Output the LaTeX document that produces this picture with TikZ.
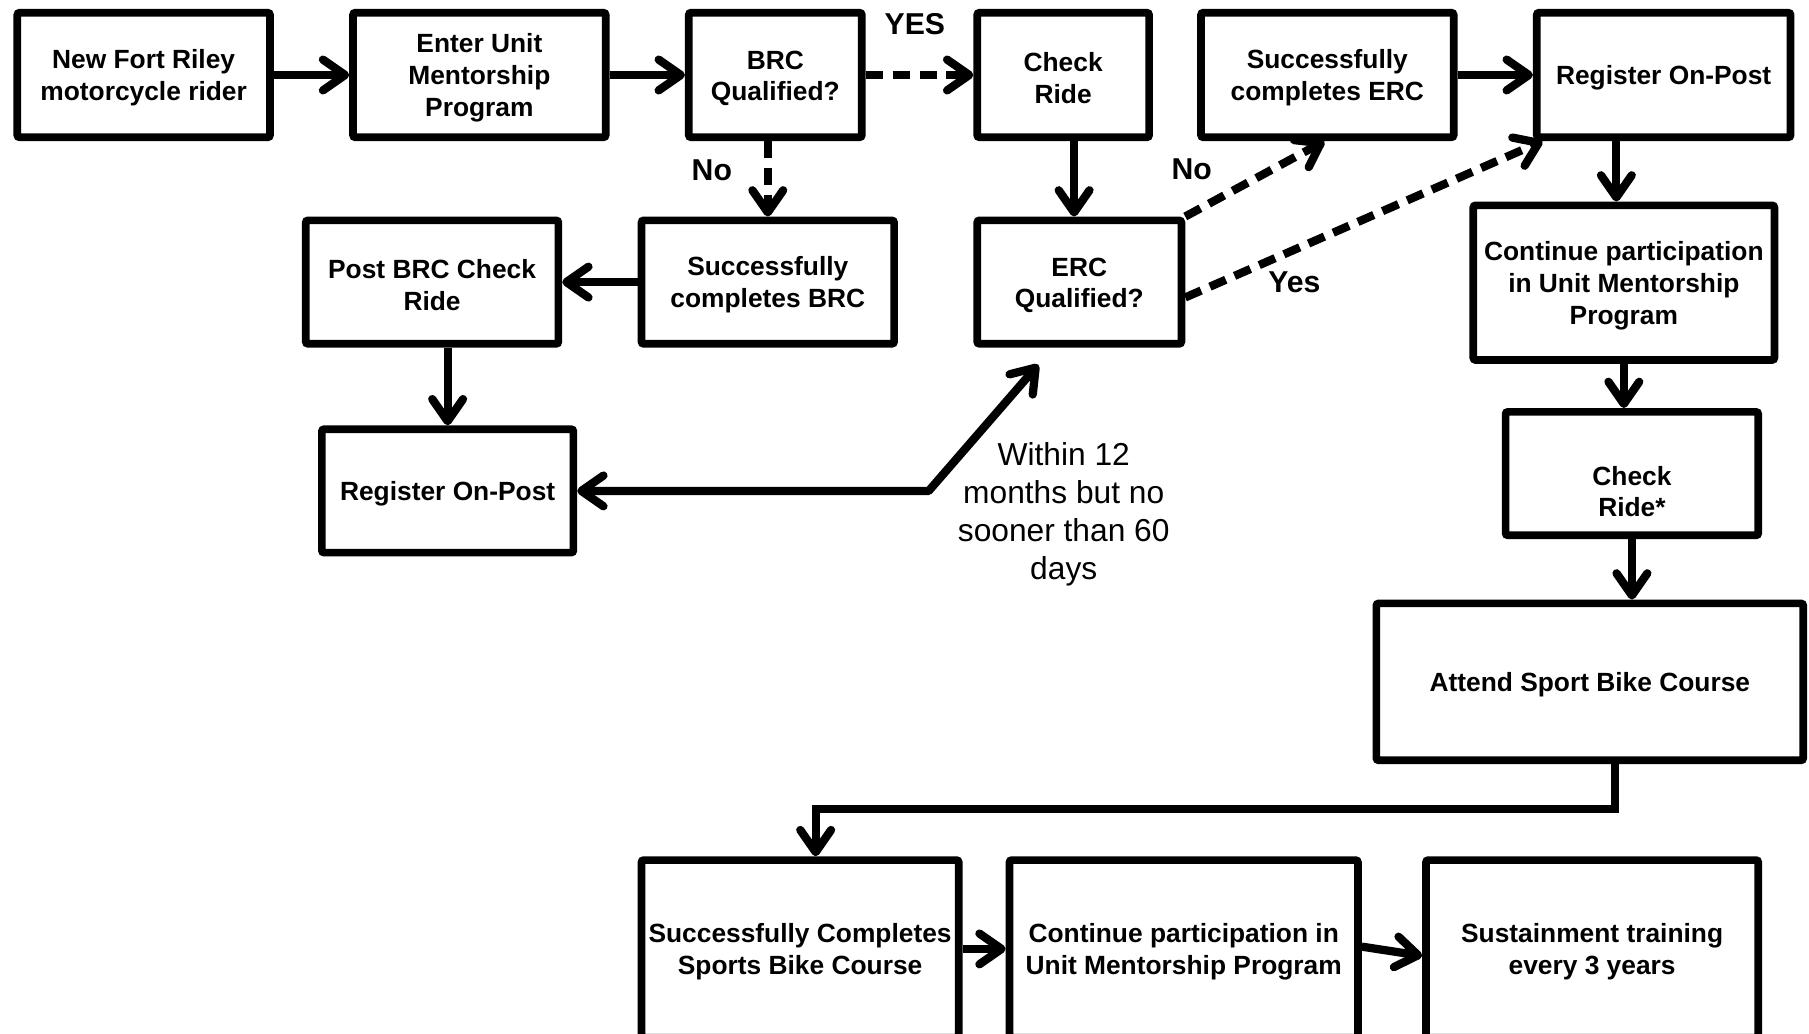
\documentclass[tikz,border=0pt]{standalone}
\usepackage{fontspec}
\setmainfont{Liberation Sans}
\usetikzlibrary{arrows.meta,calc}
\newcommand\fl{\rule{0pt}{13pt}}
\begin{document}
\begin{tikzpicture}[x=0.6pt,y=-0.6pt,
  box/.style={draw=black, line width=4pt, rectangle, rounded corners=1.2pt, align=center, inner sep=1pt, font=\bfseries\fontsize{13.7}{16.5}\selectfont, text=black},
  txt/.style={align=center, inner sep=0pt, font=\bfseries\fontsize{13.7}{16.5}\selectfont},
  tip/.tip={Straight Barb[length=11.5pt,width=16pt,line cap=round,line join=round]},
  arr/.style={line width=4.3pt, -tip, line join=round},
  dsh/.style={arr, dash pattern=on 9pt off 5pt},
  lbl/.style={font=\bfseries\fontsize{15.7}{18}\selectfont, inner sep=0pt},
  note/.style={font=\fontsize{16.5}{19.8}\selectfont, align=center, inner sep=0pt}]
\useasboundingbox (0,0) rectangle (1568,896);
\clip (0,0) rectangle (1568,896);
\fill[white] (0,0) rectangle (1568,896);

% top row
\node[box, minimum width=131.4pt, minimum height=64.8pt] (n1) at (124.5,65) {\fl New Fort Riley\\motorcycle rider};
\node[box, minimum width=131.4pt, minimum height=64.8pt] (n2) at (415.5,65) {\fl Enter Unit\\Mentorship\\Program};
\node[box, minimum width=90pt, minimum height=64.8pt] (n3) at (672,65) {\fl BRC\\Qualified?};
\node[box, minimum width=89.4pt, minimum height=64.8pt] (n4) at (921.5,65) {\fl Check\\Ride};
\node[box, minimum width=131.4pt, minimum height=64.8pt] (n5) at (1150.5,65) {\fl Successfully\\completes ERC};
\node[box, minimum width=132pt, minimum height=64.8pt] (n6) at (1442,65) {\fl Register On-Post};

% second row
\node[box, minimum width=131.4pt, minimum height=64.2pt] (n7) at (374.5,244.5) {\fl Post BRC Check\\Ride};
\node[box, minimum width=131.4pt, minimum height=64.2pt] (n8) at (665.5,244.5) {\fl Successfully\\completes BRC};
\node[box, minimum width=106.2pt, minimum height=64.2pt] (n9) at (935.5,244.5) {\fl ERC\\Qualified?};
\node[box, minimum width=156.6pt, minimum height=80.4pt] (n10) at (1407.5,245) {\fl Continue participation\\in Unit Mentorship\\Program};

% third row
\node[box, minimum width=130.8pt, minimum height=64.2pt] (n11) at (388,425.5) {\fl Register On-Post};
\node[box, minimum width=131.4pt, minimum height=64.2pt] (n12) at (1414.5,410.5) {};
\node[txt] (t12) at (1414.5,426) {Check\\Ride*};
\node[box, minimum width=222pt, minimum height=81.6pt] (n13) at (1378,591) {\fl Attend Sport Bike Course};

% bottom row
\node[box, minimum width=165pt, minimum height=92.4pt] (n14) at (693.5,822.5) {\fl Successfully Completes\\Sports Bike Course};
\node[box, minimum width=181.2pt, minimum height=92.4pt] (n15) at (1026,822.5) {\fl Continue participation in\\Unit Mentorship Program};
\node[box, minimum width=172.8pt, minimum height=92.4pt] (n16) at (1380,822.5) {\fl Sustainment training\\every 3 years};

% connectors
\draw[arr] (n1.east) -- (n2.west);
\draw[arr] (n2.east) -- (n3.west);
\draw[dsh] (n3.east) -- (n4.west);
\node[lbl] (lyes) at (793,21) {YES};
\draw[dsh] (n8.north |- n3.south) -- (n8.north);
\node[lbl] (lno1) at (617,148) {No};
\draw[arr] (n8.west) -- (n7.east);
\draw[arr] (n11.north |- n7.south) -- (n11.north);
\draw[arr] ([xshift=5.7pt]n4.south) -- ([xshift=5.7pt]n4.south |- n9.north);
\draw[dsh] (n9.north east) -- ([xshift=-1.5pt]n5.south);
\node[lbl] (lno2) at (1033,147) {No};
\draw[dsh] ([yshift=-8pt]n9.east) -- ([xshift=5pt]n6.south west);
\node[lbl] (lyes2) at (1122,245) {Yes};
\draw[arr] (n5.east) -- (n6.west);
\draw[arr] ([xshift=-24.6pt]n6.south) -- ([xshift=-24.6pt]n6.south |- n10.north);
\draw[arr] (n10.south) -- (n10.south |- n12.north);
\draw[arr] (n12.south) -- (n12.south |- n13.north);
\coordinate (k1) at (1400,701);
\draw[arr, line join=miter] (k1 |- n13.south) -- (k1) -- ([xshift=8.1pt]n14.north |- k1) -- ([xshift=8.1pt]n14.north);
\draw[arr] (n14.east) -- (n15.west);
\draw[arr] ([yshift=1.2pt]n15.east) -- ([yshift=-3.6pt]n16.west);
\coordinate (c1) at (805,425.5);
\coordinate (c2) at (900,316);
\draw[arr, tip-tip] (c2) -- (c1) -- (n11.east);
\node[note] (tnote) at (922,445.5) {Within 12\\months but no\\sooner than 60\\days};
\end{tikzpicture}
\end{document}
